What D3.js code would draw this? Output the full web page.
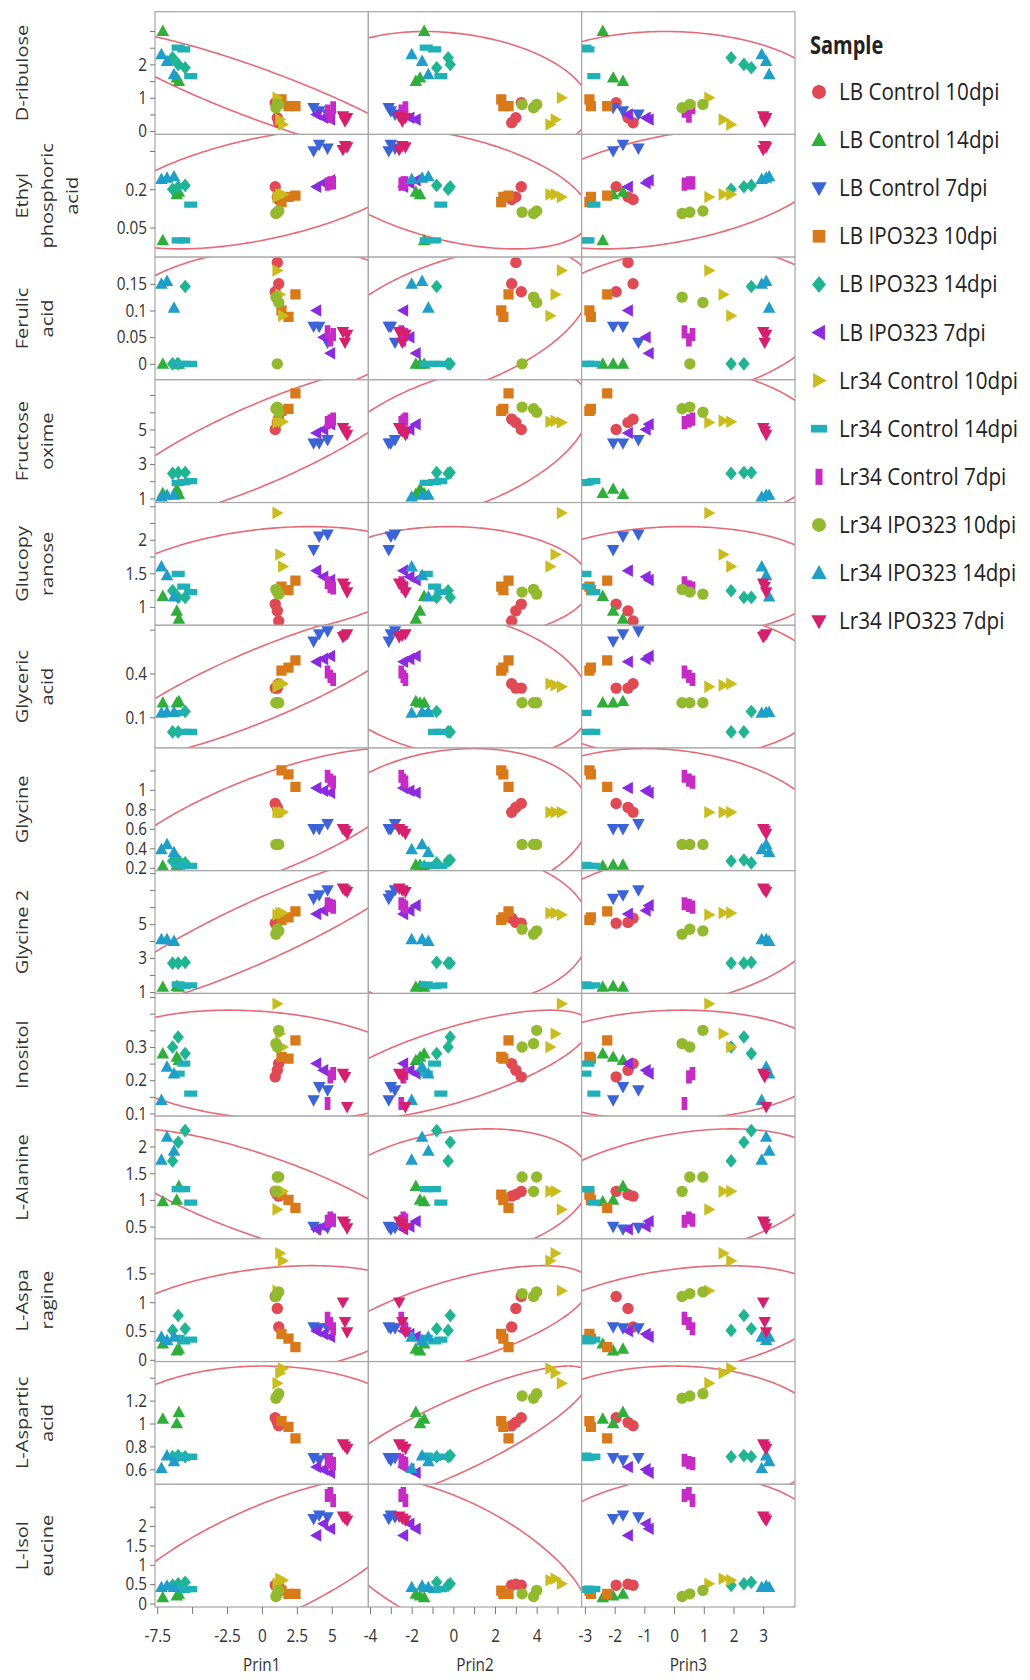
<!DOCTYPE html>
<html>
<head>
<meta charset="utf-8">
<script src="https://cdn.jsdelivr.net/npm/d3@7"></script>
<style>
  body { margin: 0; background: #fff; }
  text { font-family: "Open Sans", sans-serif; }
</style>
</head>
<body>
<div id="chart"></div>
<script>
// Page size
const width = 1030;
const height = 1680;

// Sample groups (legend order)
const samples = [
  "LB Control 10dpi", "LB Control 14dpi", "LB Control 7dpi",
  "LB IPO323 10dpi", "LB IPO323 14dpi", "LB IPO323 7dpi",
  "Lr34 Control 10dpi", "Lr34 Control 14dpi", "Lr34 Control 7dpi",
  "Lr34 IPO323 10dpi", "Lr34 IPO323 14dpi", "Lr34 IPO323 7dpi"
];
const sampleColors = [
  "#e04a55", "#2fae3a", "#3d63d8", "#d97a1a", "#1fb592", "#8a2be0",
  "#c9bc1c", "#20b1b8", "#c62bc6", "#93b92e", "#1e9ec8", "#d6206e"
];
const sampleShapes = [
  "circle", "up", "down", "square", "diamond", "left",
  "right", "hbar", "vbar", "circle", "up", "down"
];

// Principal component scores, 3 replicates per sample
const prin1 = [
  [0.95, 1.1, 1.2], [-7.1, -6.1, -5.95], [3.7, 4.1, 4.7], [1.4, 1.9, 2.4],
  [-6.4, -6.0, -5.5], [3.9, 4.4, 4.9], [1.1, 1.3, 1.5], [-6.0, -5.6, -5.1],
  [4.7, 4.9, 5.1], [1.0, 1.1, 1.2], [-7.2, -6.8, -6.3], [5.8, 5.95, 6.1]
];
const prin2 = [
  [3.26, 3.0, 2.8], [-1.4, -1.6, -1.8], [-3.1, -3.0, -2.8], [2.3, 2.4, 2.65],
  [-0.25, -0.15, -0.8], [-2.4, -2.1, -1.8], [5.2, 4.9, 4.65], [-1.3, -0.9, -0.6],
  [-2.5, -2.4, -2.3], [3.85, 3.3, 4.0], [-2.0, -1.5, -1.2], [-2.6, -2.45, -2.3]
];
const prin3 = [
  [-1.95, -1.55, -1.38], [-2.4, -2.05, -1.72], [-2.05, -1.72, -1.2], [-2.85, -2.8, -2.25],
  [1.92, 2.35, 2.6], [-1.55, -0.95, -0.85], [1.18, 1.66, 1.92], [-3.0, -2.9, -2.7],
  [0.35, 0.5, 0.62], [0.27, 0.53, 0.97], [2.95, 3.1, 3.2], [3.0, 3.05, 3.1]
];

// Metabolite values, same sample / replicate order
const dRibulose = [
  [0.85, 0.4, 0.25], [3.0, 1.6, 1.5], [0.7, 0.6, 0.5], [0.95, 0.75, 0.75],
  [2.2, 2.0, 1.9], [0.5, 0.4, 0.35], [1.0, 0.35, 0.2], [2.5, 2.45, 1.65],
  [0.6, 0.45, 0.7], [0.7, 0.8, 0.8], [2.3, 2.1, 1.7], [0.45, 0.3, 0.4]
];
const ethylPhosphoric = [
  [0.21, 0.17, 0.16], [0.0, 0.18, 0.19], [0.35, 0.375, 0.36], [0.15, 0.17, 0.175],
  [0.2, 0.21, 0.215], [0.21, 0.225, 0.235], [0.17, 0.18, 0.18], [0.0, 0.0, 0.14],
  [0.22, 0.225, 0.225], [0.105, 0.11, 0.115], [0.24, 0.245, 0.25], [0.355, 0.37, 0.365]
];
const ferulic = [
  [0.135, 0.19, 0.15], [0.0, 0.0, 0.0], [0.07, 0.07, 0.04], [0.1, 0.088, 0.13],
  [0.0, 0.0, 0.145], [0.1, 0.05, 0.02], [0.175, 0.13, 0.09], [0.0, 0.0, 0.0],
  [0.06, 0.045, 0.055], [0.125, 0.0, 0.115], [0.15, 0.155, 0.105], [0.06, 0.04, 0.055]
];
const fructoseOxime = [
  [5.0, 5.4, 5.6], [1.3, 1.55, 1.25], [4.2, 4.2, 4.4], [6.08, 6.2, 7.1],
  [2.45, 2.5, 2.5], [4.8, 5.0, 5.3], [5.4, 5.5, 5.45], [1.9, 1.95, 2.0],
  [5.4, 5.5, 5.6], [6.2, 6.3, 6.0], [1.1, 1.2, 1.2], [5.1, 4.9, 4.7]
];
const glucopyranose = [
  [1.04, 0.94, 0.79], [1.16, 0.94, 0.82], [1.85, 2.05, 2.08], [1.3, 1.25, 1.39],
  [1.24, 1.14, 1.14], [1.54, 1.45, 1.4], [2.4, 1.78, 1.6], [1.49, 1.3, 1.22],
  [1.36, 1.3, 1.28], [1.26, 1.22, 1.19], [1.6, 1.47, 1.15], [1.35, 1.3, 1.22]
];
const glycericAcid = [
  [0.3, 0.3, 0.33], [0.2, 0.2, 0.21], [0.62, 0.67, 0.69], [0.42, 0.44, 0.49],
  [0.0, 0.0, 0.14], [0.48, 0.5, 0.52], [0.31, 0.32, 0.33], [0.13, 0.0, 0.0],
  [0.41, 0.38, 0.36], [0.2, 0.2, 0.2], [0.13, 0.135, 0.135], [0.65, 0.66, 0.67]
];
const glycine = [
  [0.86, 0.82, 0.77], [0.22, 0.23, 0.23], [0.6, 0.6, 0.65], [1.2, 1.16, 1.03],
  [0.27, 0.28, 0.25], [1.02, 0.99, 0.97], [0.77, 0.77, 0.77], [0.23, 0.22, 0.22],
  [1.14, 1.1, 1.08], [0.44, 0.44, 0.44], [0.39, 0.44, 0.36], [0.6, 0.58, 0.55]
];
const glycine2 = [
  [5.05, 5.1, 5.35], [1.3, 1.35, 1.3], [6.5, 6.7, 7.0], [5.25, 5.4, 5.75],
  [2.7, 2.7, 2.75], [5.6, 5.8, 6.1], [5.55, 5.65, 5.65], [1.45, 1.35, 1.4],
  [6.2, 6.1, 6.0], [4.4, 4.7, 4.6], [4.1, 4.1, 4.0], [7.1, 7.0, 6.9]
];
const inositol = [
  [0.21, 0.23, 0.25], [0.28, 0.27, 0.26], [0.14, 0.18, 0.17], [0.27, 0.265, 0.32],
  [0.3, 0.33, 0.28], [0.25, 0.23, 0.22], [0.43, 0.34, 0.3], [0.22, 0.25, 0.16],
  [0.13, 0.21, 0.22], [0.31, 0.3, 0.35], [0.14, 0.24, 0.22], [0.22, 0.21, 0.12]
];
const lAlanine = [
  [1.16, 1.1, 1.07], [0.97, 1.0, 1.26], [0.5, 0.45, 0.48], [1.1, 1.0, 0.85],
  [1.73, 2.08, 2.3], [0.45, 0.5, 0.6], [0.82, 1.16, 1.16], [1.2, 1.2, 0.95],
  [0.6, 0.66, 0.62], [1.16, 1.43, 1.43], [1.75, 2.18, 1.92], [0.6, 0.55, 0.47]
];
const lAsparagine = [
  [1.1, 0.89, 0.57], [0.28, 0.16, 0.19], [0.57, 0.55, 0.55], [0.45, 0.37, 0.22],
  [0.51, 0.77, 0.54], [0.5, 0.45, 0.4], [1.2, 1.85, 1.72], [0.38, 0.32, 0.35],
  [0.72, 0.63, 0.54], [1.1, 1.15, 1.18], [0.4, 0.34, 0.4], [1.0, 0.66, 0.48]
];
const lAspartic = [
  [1.05, 1.01, 0.98], [1.04, 1.0, 1.1], [0.7, 0.68, 0.7], [1.02, 0.97, 0.87],
  [0.71, 0.72, 0.71], [0.62, 0.6, 0.57], [1.35, 1.44, 1.48], [0.72, 0.7, 0.71],
  [0.68, 0.66, 0.65], [1.22, 1.24, 1.26], [0.61, 0.72, 0.67], [0.82, 0.8, 0.78]
];
const lIsoleucine = [
  [0.47, 0.5, 0.47], [0.16, 0.2, 0.25], [2.19, 2.28, 2.23], [0.33, 0.25, 0.25],
  [0.47, 0.51, 0.55], [1.76, 2.06, 1.93], [0.51, 0.64, 0.6], [0.38, 0.35, 0.37],
  [2.79, 2.84, 2.66], [0.18, 0.25, 0.34], [0.42, 0.46, 0.42], [2.25, 2.2, 2.15]
];

// Rows of the matrix
const rowValues = [
  dRibulose, ethylPhosphoric, ferulic, fructoseOxime, glucopyranose, glycericAcid,
  glycine, glycine2, inositol, lAlanine, lAsparagine, lAspartic, lIsoleucine
];
const rowLabels = [
  ["D-ribulose"], ["Ethyl", "phosphoric", "acid"], ["Ferulic", "acid"],
  ["Fructose", "oxime"], ["Glucopy", "ranose"], ["Glyceric", "acid"],
  ["Glycine"], ["Glycine 2"], ["Inositol"], ["L-Alanine"],
  ["L-Aspa", "ragine"], ["L-Aspartic", "acid"], ["L-Isol", "eucine"]
];
const rowDomains = [
  [-0.1, 3.58], [-0.066, 0.415], [-0.03, 0.2], [0.76, 7.88], [0.725, 2.555],
  [-0.11, 0.73], [0.17, 1.43], [0.92, 8.14], [0.092, 0.461], [0.27, 2.57],
  [-0.03, 2.1], [0.47, 1.54], [-0.09, 3.08]
];
const rowTicks = [
  [0, 0.5, 1, 1.5, 2, 2.5, 3], [0.05, 0.2, 0.35], [0, 0.05, 0.1, 0.15],
  [1, 2, 3, 4, 5, 6, 7], [1, 1.25, 1.5, 1.75, 2, 2.25, 2.5], [0.1, 0.4, 0.7],
  [0.2, 0.4, 0.6, 0.8, 1, 1.2], [1, 2, 3, 4, 5, 6, 7, 8],
  [0.1, 0.15, 0.2, 0.25, 0.3, 0.35, 0.4, 0.45], [0.5, 1, 1.5, 2],
  [0, 0.5, 1, 1.5], [0.6, 0.8, 1, 1.2, 1.4], [0, 0.5, 1, 1.5, 2, 2.5]
];
const rowTickLabels = [
  [0, 1, 2], [0.05, 0.2], [0, 0.05, 0.1, 0.15], [1, 3, 5], [1, 1.5, 2], [0.1, 0.4],
  [0.2, 0.4, 0.6, 0.8, 1], [1, 3, 5], [0.1, 0.2, 0.3], [0.5, 1, 1.5, 2],
  [0, 0.5, 1, 1.5], [0.6, 0.8, 1, 1.2], [0, 0.5, 1, 1.5, 2]
];

// Columns of the matrix
const colValues = [prin1, prin2, prin3];
const colLabels = ["Prin1", "Prin2", "Prin3"];
const colDomains = [[-7.66, 7.62], [-4.08, 6.16], [-3.11, 4.07]];
const colTicks = [
  [-7.5, -5, -2.5, 0, 2.5, 5],
  [-4, -3, -2, -1, 0, 1, 2, 3, 4, 5],
  [-3, -2, -1, 0, 1, 2, 3]
];
const colTickLabels = [
  [-7.5, -2.5, 0, 2.5, 5],
  [-4, -2, 0, 2, 4],
  [-3, -2, -1, 0, 1, 2, 3]
];

// Layout
const plotLeft = 155;
const plotRight = 795;
const plotTop = 11.7;
const plotBottom = 1607;
const colW = (plotRight - plotLeft) / colValues.length;
const rowH = (plotBottom - plotTop) / rowValues.length;
const ellipseK = Math.sqrt(5.991); // 95% bivariate normal
const squeeze = 0.85; // the source image is narrow

const svg = d3
  .select("#chart")
  .append("svg")
  .attr("width", width)
  .attr("height", height);

// Marker path for a shape, r is half size
function shapePath(shape, r) {
  switch (shape) {
    case "circle":
      return `M${r},0A${r},${r} 0 1,1 ${-r},0A${r},${r} 0 1,1 ${r},0Z`;
    case "up":
      return `M0,${-r * 1.15}L${r * 1.1},${r * 0.85}L${-r * 1.1},${r * 0.85}Z`;
    case "down":
      return `M0,${r * 1.15}L${r * 1.1},${-r * 0.85}L${-r * 1.1},${-r * 0.85}Z`;
    case "square":
      return `M${-r * 0.9},${-r * 0.9}h${r * 1.8}v${r * 1.8}h${-r * 1.8}Z`;
    case "diamond":
      return `M0,${-r * 1.2}L${r},0L0,${r * 1.2}L${-r},0Z`;
    case "left":
      return `M${-r * 1.1},0L${r * 0.85},${-r * 1.1}L${r * 0.85},${r * 1.1}Z`;
    case "right":
      return `M${r * 1.1},0L${-r * 0.85},${-r * 1.1}L${-r * 0.85},${r * 1.1}Z`;
    case "hbar":
      return `M${-r * 1.15},${-r * 0.55}h${r * 2.3}v${r * 1.1}h${-r * 2.3}Z`;
    case "vbar":
      return `M${-r * 0.5},${-r * 1.15}h${r}v${r * 2.3}h${-r}Z`;
  }
  return "";
}

// Ellipse points from mean and covariance
function densityEllipse(xs, ys) {
  const n = xs.length;
  const mx = d3.mean(xs);
  const my = d3.mean(ys);
  let sxx = 0, syy = 0, sxy = 0;
  for (let i = 0; i < n; i++) {
    sxx += (xs[i] - mx) ** 2;
    syy += (ys[i] - my) ** 2;
    sxy += (xs[i] - mx) * (ys[i] - my);
  }
  sxx /= n - 1; syy /= n - 1; sxy /= n - 1;
  const l11 = Math.sqrt(sxx);
  const l21 = sxy / l11;
  const l22 = Math.sqrt(Math.max(syy - l21 * l21, 1e-12));
  return d3.range(0, 361).map((deg) => {
    const t = (deg * Math.PI) / 180;
    return [
      mx + ellipseK * l11 * Math.cos(t),
      my + ellipseK * (l21 * Math.cos(t) + l22 * Math.sin(t))
    ];
  });
}

const defs = svg.append("defs");

rowValues.forEach((values, r) => {
  const y0 = plotTop + r * rowH;
  const y = d3.scaleLinear().domain(rowDomains[r]).range([y0 + rowH, y0]);

  colValues.forEach((prin, c) => {
    const x0 = plotLeft + c * colW;
    const x = d3.scaleLinear().domain(colDomains[c]).range([x0, x0 + colW]);
    const clipId = `clip-${r}-${c}`;
    defs
      .append("clipPath")
      .attr("id", clipId)
      .append("rect")
      .attr("x", x0)
      .attr("y", y0)
      .attr("width", colW)
      .attr("height", rowH);

    const panel = svg.append("g");
    panel
      .append("rect")
      .attr("x", x0)
      .attr("y", y0)
      .attr("width", colW)
      .attr("height", rowH)
      .attr("fill", "#fff");

    // Flatten the points for this panel
    const pts = [];
    values.forEach((reps, g) => {
      reps.forEach((v, i) => pts.push({ g: g, x: prin[g][i], y: v }));
    });

    // Density ellipse
    const ell = densityEllipse(pts.map((d) => d.x), pts.map((d) => d.y));
    panel
      .append("path")
      .attr("clip-path", `url(#${clipId})`)
      .attr(
        "d",
        d3.line().x((d) => x(d[0])).y((d) => y(d[1]))(ell)
      )
      .attr("fill", "none")
      .attr("stroke", "#e55a68")
      .attr("stroke-width", 1.6)
      .attr("stroke-opacity", 0.9);

    // Markers
    panel
      .append("g")
      .attr("clip-path", `url(#${clipId})`)
      .selectAll("path")
      .data(pts)
      .enter()
      .append("path")
      .attr("transform", (d) => `translate(${x(d.x)},${y(d.y)})`)
      .attr("d", (d) => shapePath(sampleShapes[d.g], 5.7))
      .attr("fill", (d) => sampleColors[d.g]);

    panel
      .append("rect")
      .attr("x", x0)
      .attr("y", y0)
      .attr("width", colW)
      .attr("height", rowH)
      .attr("fill", "none")
      .attr("stroke", "#a6a6a6")
      .attr("stroke-width", 1.2);

    // Bottom axis on the last row
    if (r === rowValues.length - 1) {
      const ax = svg
        .append("g")
        .attr("transform", `translate(0,${plotBottom})`)
        .call(
          d3
            .axisBottom(x)
            .tickValues(colTicks[c])
            .tickSize(7)
            .tickPadding(15)
            .tickFormat((d) => (colTickLabels[c].includes(d) ? d : ""))
        );
      ax.select(".domain").remove();
      ax.selectAll("line").attr("stroke", "#777");
      ax.selectAll("text")
        .style("font-family", "'Open Sans', sans-serif")
        .style("font-size", "18px")
        .attr("transform", `scale(${squeeze},1)`)
        .attr("fill", "#333");
      svg
        .append("text")
        .attr(
          "transform",
          `translate(${x0 + colW / 2},1671) scale(${squeeze},1)`
        )
        .attr("text-anchor", "middle")
        .style("font-size", "18px")
        .attr("fill", "#333")
        .text(colLabels[c]);
    }
  });

  // Left axis
  const ay = svg
    .append("g")
    .attr("transform", `translate(${plotLeft},0)`)
    .call(
      d3
        .axisLeft(y)
        .tickValues(rowTicks[r])
        .tickSize(5)
        .tickPadding(3)
        .tickFormat((d) => (rowTickLabels[r].includes(d) ? d : ""))
    );
  ay.select(".domain").remove();
  ay.selectAll("line").attr("stroke", "#777");
  ay.selectAll("text")
    .style("font-family", "'Open Sans', sans-serif")
    .style("font-size", "18px")
    .attr("x", -8 / squeeze)
    .attr("transform", `scale(${squeeze},1)`)
    .attr("fill", "#333");

  // Row label, one rotated line per text line
  rowLabels[r].forEach((line, i) => {
    svg
      .append("text")
      .attr(
        "transform",
        `translate(${28 + i * 25},${y0 + rowH / 2}) rotate(-90) scale(1,0.85)`
      )
      .attr("text-anchor", "middle")
      .style("font-size", "20px")
      .attr("fill", "#333")
      .text(line);
  });
});

// Legend
const legend = svg.append("g").attr("transform", "translate(810,0)");
legend
  .append("text")
  .attr("transform", "translate(0,54) scale(0.8,1)")
  .style("font-size", "25px")
  .style("font-weight", "bold")
  .attr("fill", "#222")
  .text("Sample");

const items = legend
  .selectAll("g.item")
  .data(samples)
  .enter()
  .append("g")
  .attr("class", "item")
  .attr("transform", (d, i) => `translate(0,${92 + i * 48.1})`);

items
  .append("path")
  .attr("transform", "translate(9,0)")
  .attr("d", (d, i) => shapePath(sampleShapes[i], 7))
  .attr("fill", (d, i) => sampleColors[i]);

items
  .append("text")
  .attr("transform", "translate(29,8) scale(0.86,1)")
  .style("font-size", "24px")
  .attr("fill", "#222")
  .text((d) => d);
</script>
</body>
</html>
